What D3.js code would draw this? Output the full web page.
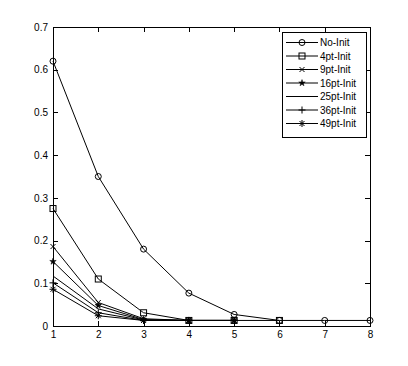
<!DOCTYPE html>
<html>
<head>
<meta charset="utf-8">
<script src="https://cdn.jsdelivr.net/npm/d3@7"></script>
<style>
  body { margin: 0; background: #fff; }
  svg text { font-family: "Liberation Sans", Arial, sans-serif; font-size: 10px; fill: #000; }
</style>
</head>
<body>
<svg width="408" height="366"></svg>
<script>
// series values
var xTicks = [1, 2, 3, 4, 5, 6, 7, 8];
var yTicks = [0, 0.1, 0.2, 0.3, 0.4, 0.5, 0.6, 0.7];
var seriesNames = ["No-Init", "4pt-Init", "9pt-Init", "16pt-Init", "25pt-Init", "36pt-Init", "49pt-Init"];
var markers = ["circle", "square", "x", "star", "none", "plus", "asterisk"];
var noInit = [0.62, 0.35, 0.18, 0.077, 0.027, 0.013, 0.013, 0.013];
var pt4 = [0.275, 0.11, 0.031, 0.013, 0.013, 0.013];
var pt9 = [0.186, 0.055, 0.017, 0.013, 0.013];
var pt16 = [0.151, 0.048, 0.015, 0.013, 0.013];
var pt25 = [0.117, 0.04, 0.014, 0.013, 0.013];
var pt36 = [0.101, 0.031, 0.013, 0.013, 0.013];
var pt49 = [0.086, 0.024, 0.013, 0.013, 0.013];
var allSeries = [noInit, pt4, pt9, pt16, pt25, pt36, pt49];

var mLeft = 53, mRight = 370, mTop = 27, mBottom = 326;
var svg = d3.select("svg");
var x = d3.scaleLinear().domain([1, 8]).range([mLeft, mRight]);
var y = d3.scaleLinear().domain([0, 0.7]).range([mBottom, mTop]);

// box axes with inward ticks
svg.append("rect").attr("x", mLeft).attr("y", mTop).attr("width", mRight - mLeft).attr("height", mBottom - mTop)
  .attr("fill", "none").attr("stroke", "#000").attr("shape-rendering", "crispEdges");
svg.append("g").attr("transform", "translate(0," + mBottom + ")")
  .call(d3.axisBottom(x).tickValues(xTicks).tickSize(-5).tickPadding(5).tickFormat(d3.format("d")))
  .call(g => g.select(".domain").remove());
svg.append("g").attr("transform", "translate(0," + mTop + ")")
  .call(d3.axisTop(x).tickValues(xTicks).tickSize(-5).tickFormat(""))
  .call(g => g.select(".domain").remove());
svg.append("g").attr("transform", "translate(" + mLeft + ",0)")
  .call(d3.axisLeft(y).tickValues(yTicks).tickSize(-5).tickPadding(5).tickFormat(d => d === 0 ? "0" : d3.format(".1f")(d)))
  .call(g => g.select(".domain").remove());
svg.append("g").attr("transform", "translate(" + mRight + ",0)")
  .call(d3.axisRight(y).tickValues(yTicks).tickSize(-5).tickFormat(""))
  .call(g => g.select(".domain").remove());
svg.selectAll(".tick line").attr("shape-rendering", "crispEdges");
svg.selectAll(".tick text").style("font-size", "10px").style("font-family", "'Liberation Sans', Arial, sans-serif");

function drawMarker(g, type, cx, cy) {
  var s = 3;
  if (type == "circle") {
    g.append("circle").attr("cx", cx).attr("cy", cy).attr("r", s).attr("fill", "none").attr("stroke", "#000");
  } else if (type == "square") {
    g.append("rect").attr("x", cx - s).attr("y", cy - s).attr("width", 2 * s).attr("height", 2 * s)
      .attr("fill", "none").attr("stroke", "#000");
  } else if (type == "x") {
    g.append("path").attr("d", "M" + (cx - 2.5) + "," + (cy - 2.5) + "L" + (cx + 2.5) + "," + (cy + 2.5) +
      "M" + (cx - 2.5) + "," + (cy + 2.5) + "L" + (cx + 2.5) + "," + (cy - 2.5)).attr("stroke", "#000");
  } else if (type == "star") {
    g.append("path").attr("d", d3.symbol().type(d3.symbolStar).size(13)()).attr("transform", "translate(" + cx + "," + cy + ")")
      .attr("fill", "#000").attr("stroke", "#000").attr("stroke-width", 0.5);
  } else if (type == "plus") {
    g.append("path").attr("d", "M" + (cx - 3.5) + "," + cy + "L" + (cx + 3.5) + "," + cy +
      "M" + cx + "," + (cy - 3.5) + "L" + cx + "," + (cy + 3.5)).attr("stroke", "#000");
  } else if (type == "asterisk") {
    g.append("path").attr("d", "M" + (cx - 3.5) + "," + cy + "L" + (cx + 3.5) + "," + cy +
      "M" + cx + "," + (cy - 3.5) + "L" + cx + "," + (cy + 3.5) +
      "M" + (cx - 2.5) + "," + (cy - 2.5) + "L" + (cx + 2.5) + "," + (cy + 2.5) +
      "M" + (cx - 2.5) + "," + (cy + 2.5) + "L" + (cx + 2.5) + "," + (cy - 2.5)).attr("stroke", "#000");
  }
}

var line = d3.line().x((d, i) => x(i + 1)).y(d => y(d));
var plot = svg.append("g");
allSeries.forEach(function(vals, k) {
  plot.append("path").datum(vals).attr("d", line).attr("fill", "none").attr("stroke", "#000").attr("stroke-width", 1);
  vals.forEach(function(v, i) {
    drawMarker(plot, markers[k], x(i + 1), y(v));
  });
});

// legend
var lg = svg.append("g");
lg.append("rect").attr("x", 282).attr("y", 32).attr("width", 84).attr("height", 105)
  .attr("fill", "#fff").attr("stroke", "#000").attr("shape-rendering", "crispEdges");
seriesNames.forEach(function(name, k) {
  var ly = 42.5 + k * 13.5;
  lg.append("line").attr("x1", 286).attr("x2", 318).attr("y1", ly).attr("y2", ly).attr("stroke", "#000");
  drawMarker(lg, markers[k], 302, ly);
  lg.append("text").attr("x", 320).attr("y", ly).attr("dy", "0.35em").text(name);
});
</script>
</body>
</html>
